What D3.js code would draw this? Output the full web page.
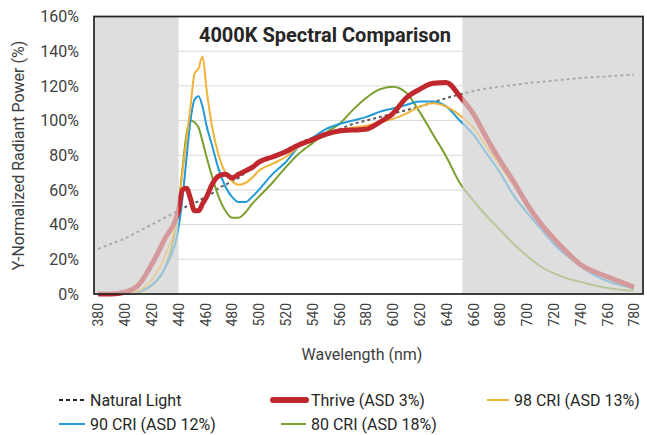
<!DOCTYPE html>
<html>
<head>
<meta charset="utf-8">
<script src="https://cdn.jsdelivr.net/npm/d3@7"></script>
<style>
  body { margin: 0; background: #fff; }
  text { font-family: Roboto, "Noto Sans", sans-serif; }
</style>
</head>
<body>
<div id="container"></div>
<script>
// wavelength grid (nm), finer around the blue peaks
const wavelengths = [380, 390, 400, 410, 420, 430, 440, 443, 446, 449, 452, 455, 458, 461,
    465, 470, 475, 480, 485, 490, 495, 500, 510, 520, 530, 540, 550, 560, 570, 580, 590,
    600, 610, 620, 630, 640, 650, 660, 670, 680, 690, 700, 710, 720, 730, 740, 750, 760, 770, 780];

// values in %
const naturalLight = [26, 29, 32, 36, 40, 44, 48, 49, 50.5, 51.5, 52.5, 53.5, 55, 56,
    58, 61, 63, 65, 67, 70, 72, 75, 79, 83, 87, 90, 93, 95, 98, 100, 102,
    104, 106, 108, 110.5, 113, 115, 117, 118.5, 119.5, 120.5, 121.5, 122.3, 123, 123.8, 124.5, 125, 125.5, 126, 126.5];
const thrive = [0, 0, 1, 5, 17, 32, 48, 60, 61, 55, 48, 48, 52, 56,
    63, 68, 69, 67, 69, 71, 73, 76, 79, 82, 86, 89, 92, 94, 94.5, 95, 99,
    104, 113, 118, 121.5, 122, 114, 104, 90, 77, 65, 52, 41, 32, 24, 17, 13, 10, 7, 4];
const cri98 = [0, 0, 0.5, 2, 8, 22, 50, 70, 89, 108, 127, 130, 137, 118,
    97, 80, 70, 65, 63, 64, 67, 71, 75, 79, 85, 89, 92, 94, 96, 97, 99,
    101, 104, 108, 110, 108, 103, 96, 85, 74, 63, 52, 42, 33, 25, 18, 13, 9, 6, 4];
const cri90 = [0, 0, 0, 1.5, 5, 15, 38, 55, 78, 100, 112, 114, 108, 97,
    86, 72, 62, 56, 53, 53, 56, 60, 69, 76, 85, 90, 95, 98, 100, 102, 105,
    107, 109, 111, 111, 108, 100, 92, 81, 70, 57, 47, 38, 29, 22, 16, 11, 7.5, 5, 3.5];
const cri80 = [0, 0, 0, 1, 5, 15, 50, 72, 92, 100, 99, 96, 88, 79,
    68, 56, 48, 44, 44, 47, 52, 56, 64, 73, 81, 87, 93, 98, 106, 113, 118,
    119.5, 116, 105, 92, 79, 64, 54, 45, 37, 29, 22, 16, 12, 9, 7, 5, 3.5, 2.5, 2];

const xTicks = d3.range(380, 781, 20);
const yTicks = [0, 20, 40, 60, 80, 100, 120, 140, 160];
const shadeLeft = [377, 440];
const shadeRight = [652, 786.7];

const series = [
    {name: "Natural Light", values: naturalLight, color: "#595959", width: 2, dash: "3,3"},
    {name: "80 CRI (ASD 18%)", values: cri80, color: "#7a9f2e", width: 2},
    {name: "90 CRI (ASD 12%)", values: cri90, color: "#229ad8", width: 2},
    {name: "98 CRI (ASD 13%)", values: cri98, color: "#f2b23a", width: 2},
    {name: "Thrive (ASD 3%)", values: thrive, color: "#c0282d", width: 5}
];

const width = 647;
const height = 435;
const margin = {left: 94, right: 4, top: 16.5, bottom: 141};

const svg = d3.select("#container")
    .append("svg")
    .attr("width", width)
    .attr("height", height);

const scaleX = d3.scaleLinear().domain([377, 786.7]).range([margin.left, width - margin.right]);
const scaleY = d3.scaleLinear().domain([0, 160]).range([height - margin.bottom, margin.top]);

const plotLeft = scaleX.range()[0], plotRight = scaleX.range()[1];
const plotTop = scaleY.range()[1], plotBottom = scaleY.range()[0];

// gray shaded areas (under everything)
for (const s of [shadeLeft, shadeRight]) {
    svg.append("rect")
        .attr("x", scaleX(s[0])).attr("y", plotTop)
        .attr("width", scaleX(s[1]) - scaleX(s[0]))
        .attr("height", plotBottom - plotTop)
        .attr("fill", "#dedede");
}

// gridlines
svg.append("g")
    .selectAll("line")
    .data(yTicks.filter(d => d > 0 && d < 160))
    .join("line")
    .attr("x1", plotLeft).attr("x2", plotRight)
    .attr("y1", d => scaleY(d)).attr("y2", d => scaleY(d))
    .attr("stroke", "#d9d9d9")
    .attr("stroke-width", 1);

const line = d3.line()
    .x((d, i) => scaleX(wavelengths[i]))
    .y(d => scaleY(d))
    .curve(d3.curveMonotoneX);

for (const s of series) {
    svg.append("path")
        .datum(s.values)
        .attr("fill", "none")
        .attr("stroke", s.color)
        .attr("stroke-width", s.width)
        .attr("stroke-dasharray", s.dash || null)
        .attr("stroke-linejoin", "round")
        .attr("d", line);
}

// fade the curves outside the visible range
for (const s of [shadeLeft, shadeRight]) {
    svg.append("rect")
        .attr("x", scaleX(s[0])).attr("y", plotTop)
        .attr("width", scaleX(s[1]) - scaleX(s[0]))
        .attr("height", plotBottom - plotTop)
        .attr("fill", "#dedede")
        .attr("fill-opacity", 0.62);
}

// plot border
svg.append("rect")
    .attr("x", plotLeft).attr("y", plotTop)
    .attr("width", plotRight - plotLeft)
    .attr("height", plotBottom - plotTop)
    .attr("fill", "none")
    .attr("stroke", "#262626")
    .attr("stroke-width", 1.75);

// y axis
const yAxis = svg.append("g")
    .attr("transform", "translate(" + plotLeft + ",0)")
    .call(d3.axisLeft(scaleY).tickValues(yTicks).tickSize(0).tickPadding(15).tickFormat(d => d + "%"));
yAxis.select(".domain").remove();
yAxis.selectAll("text")
    .attr("font-family", "Roboto")
    .attr("font-size", 16)
    .attr("fill", "#404040");

// x axis, rotated labels
const xAxis = svg.append("g")
    .attr("transform", "translate(0," + plotBottom + ")")
    .call(d3.axisBottom(scaleX).tickValues(xTicks).tickSize(0).tickFormat(d3.format("d")));
xAxis.select(".domain").remove();
xAxis.selectAll("text")
    .attr("font-family", "Roboto")
    .attr("font-size", 14)
    .attr("fill", "#404040")
    .attr("text-anchor", "end")
    .attr("transform", "rotate(-90)")
    .attr("x", -9)
    .attr("y", 0)
    .attr("dy", "0.35em");

// axis titles
svg.append("text")
    .attr("transform", "translate(18," + 155.5 + ") rotate(-90)")
    .attr("text-anchor", "middle")
    .attr("dy", "0.35em")
    .attr("font-size", 16)
    .attr("fill", "#404040")
    .text("Y-Normalized Radiant Power (%)");

svg.append("text")
    .attr("x", 362)
    .attr("y", 360)
    .attr("text-anchor", "middle")
    .attr("font-size", 16)
    .attr("fill", "#404040")
    .text("Wavelength (nm)");

// chart title
svg.append("text")
    .attr("x", 325)
    .attr("y", 41.5)
    .attr("text-anchor", "middle")
    .attr("font-size", 20)
    .attr("font-weight", "bold")
    .attr("fill", "#262626")
    .text("4000K Spectral Comparison");

// legend
const legendItems = [
    {s: series[0], x: 59, y: 400, len: 26},
    {s: series[4], x: 273, y: 400, len: 33},
    {s: series[3], x: 487, y: 400, len: 22},
    {s: series[2], x: 59, y: 424, len: 26},
    {s: series[1], x: 281, y: 424, len: 25}
];
const legend = svg.append("g");
for (const item of legendItems) {
    const textX = item.x + item.len + 5;
    legend.append("line")
        .attr("x1", item.x).attr("x2", item.x + item.len)
        .attr("y1", item.y).attr("y2", item.y)
        .attr("stroke", item.s.name === "Natural Light" ? "#262626" : item.s.color)
        .attr("stroke-width", item.s.name.startsWith("Thrive") ? 6 : 2)
        .attr("stroke-linecap", item.s.name.startsWith("Thrive") ? "round" : "butt")
        .attr("stroke-dasharray", item.s.dash ? "4,3" : null);
    legend.append("text")
        .attr("x", textX)
        .attr("y", item.y)
        .attr("dy", "0.35em")
        .attr("font-size", 16)
        .attr("fill", "#262626")
        .text(item.s.name);
}
</script>
</body>
</html>
